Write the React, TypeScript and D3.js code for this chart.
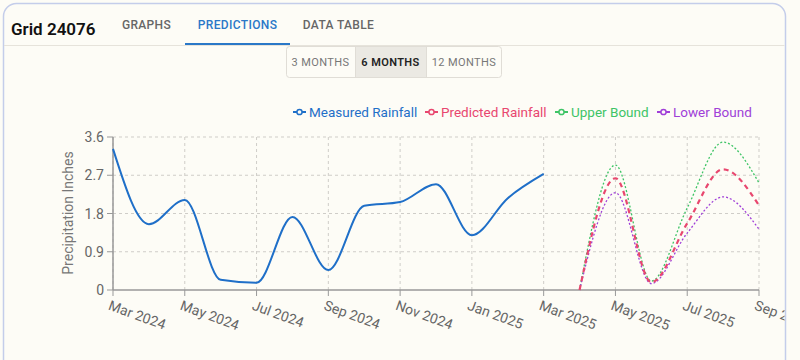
import React from "react";
import * as d3 from "d3";

const months = [
  "Mar 2024", "Apr 2024", "May 2024", "Jun 2024", "Jul 2024", "Aug 2024", "Sep 2024",
  "Oct 2024", "Nov 2024", "Dec 2024", "Jan 2025", "Feb 2025", "Mar 2025",
  "Apr 2025", "May 2025", "Jun 2025", "Jul 2025", "Aug 2025", "Sep 2025",
];
const measured: (number | null)[] = [
  3.32, 1.55, 2.12, 0.24, 0.17, 1.72, 0.47, 1.98, 2.07, 2.49, 1.29, 2.16, 2.73,
  null, null, null, null, null, null,
];
const predicted: (number | null)[] = [
  null, null, null, null, null, null, null, null, null, null, null, null, null,
  0, 2.63, 0.18, 1.57, 2.84, 1.99,
];
const upper: (number | null)[] = [
  null, null, null, null, null, null, null, null, null, null, null, null, null,
  0, 2.94, 0.21, 1.93, 3.48, 2.52,
];
const lower: (number | null)[] = [
  null, null, null, null, null, null, null, null, null, null, null, null, null,
  0, 2.29, 0.15, 1.34, 2.19, 1.43,
];
const yTicks = [0, 0.9, 1.8, 2.7, 3.6];
const xTickLabels = months.filter((_, i) => i % 2 === 0);
const legendNames = ["Measured Rainfall", "Predicted Rainfall", "Upper Bound", "Lower Bound"];
const tabs = ["GRAPHS", "PREDICTIONS", "DATA TABLE"];
const ranges = ["3 MONTHS", "6 MONTHS", "12 MONTHS"];

const BG = "#fdfcf6";
const FONT = "Roboto, 'Noto Sans', sans-serif";
const colors = ["#1f6fc8", "#e8476f", "#3ec466", "#a03fd8"];

export default function App() {
  const x = d3.scalePoint<string>().domain(months).range([113, 759]);
  const y = d3.scaleLinear().domain([0, 3.6]).range([290, 137]);
  const line = d3
    .line<number | null>()
    .defined((d) => d !== null)
    .x((_, i) => x(months[i]) as number)
    .y((d) => y(d as number))
    .curve(d3.curveMonotoneX);

  const series = [
    { data: measured, color: colors[0], width: 2, dash: undefined as string | undefined },
    { data: upper, color: colors[2], width: 1.3, dash: "2 2" },
    { data: lower, color: colors[3], width: 1.3, dash: "2 2" },
    { data: predicted, color: colors[1], width: 2.2, dash: "5 4" },
  ];

  const legendX = [293, 425, 555, 657];
  const tabX = [146.5, 237.5, 338.5];
  const rangeBoxes = [
    [286, 355],
    [355, 426],
    [426, 502],
  ];

  return (
    <svg
      width={800}
      height={360}
      style={{ position: "absolute", left: 0, top: 0, background: BG }}
      fontFamily={FONT}
    >
      <defs>
        <clipPath id="card-clip">
          <rect x={4} y={4} width={780.5} height={400} rx={12} />
        </clipPath>
      </defs>
      <rect x={0} y={0} width={800} height={360} fill={BG} />
      {/* card */}
      <rect x={3.5} y={3.5} width={782} height={400} rx={13} fill={BG} stroke="#c4cdea" strokeWidth={1.5} />
      <g clipPath="url(#card-clip)">
        <line x1={4} x2={785} y1={45.5} y2={45.5} stroke="#e6e3db" />
        <text x={11} y={35} fontSize={17} fontWeight={600} fill="#111">Grid 24076</text>
        {tabs.map((t, i) => (
          <text
            key={t}
            x={tabX[i]}
            y={29}
            textAnchor="middle"
            fontSize={12}
            fontWeight={500}
            letterSpacing={0.35}
            fill={i === 1 ? "#2a78c8" : "#666"}
          >
            {t}
          </text>
        ))}
        <rect x={185} y={43} width={105} height={2} fill="#2a78c8" />
        {/* range buttons */}
        <rect x={286.5} y={46.5} width={215} height={31} rx={3} fill={BG} stroke="#e0ddd6" />
        <rect x={355} y={47} width={71} height={30} fill="#ebe9e3" />
        <line x1={355.5} x2={355.5} y1={47} y2={77} stroke="#e0ddd6" />
        <line x1={426.5} x2={426.5} y1={47} y2={77} stroke="#e0ddd6" />
        {ranges.map((r, i) => (
          <text
            key={r}
            x={(rangeBoxes[i][0] + rangeBoxes[i][1]) / 2}
            y={66}
            textAnchor="middle"
            fontSize={11}
            fontWeight={i === 1 ? 600 : 400}
            letterSpacing={0.4}
            fill={i === 1 ? "#222" : "#777"}
          >
            {r}
          </text>
        ))}
        {/* legend */}
        {legendNames.map((n, i) => (
          <g key={n} transform={`translate(${legendX[i]},112)`}>
            <line x1={0} x2={13} y1={0} y2={0} stroke={colors[i]} strokeWidth={2} />
            <circle cx={6.5} cy={0} r={2.6} fill={BG} stroke={colors[i]} strokeWidth={1.5} />
            <text x={16} y={5} fontSize={13.5} fill={colors[i]}>{n}</text>
          </g>
        ))}
        {/* grid */}
        {yTicks.slice(1).map((t) => (
          <line key={t} x1={113} x2={759} y1={y(t)} y2={y(t)} stroke="#cfcdc8" strokeDasharray="3 3" />
        ))}
        {xTickLabels.map((m) => (
          <line key={m} x1={x(m)} x2={x(m)} y1={137} y2={290} stroke="#cfcdc8" strokeDasharray="3 3" />
        ))}
        {/* axes */}
        <line x1={113} x2={759} y1={290} y2={290} stroke="#999" strokeWidth={1.5} />
        <line x1={113} x2={113} y1={137} y2={290} stroke="#999" strokeWidth={1.5} />
        {yTicks.map((t) => (
          <g key={t}>
            <line x1={107} x2={113} y1={y(t)} y2={y(t)} stroke="#999" />
            <text x={104} y={y(t) + 5} textAnchor="end" fontSize={14} fill="#666">{t === 0 ? "0" : t.toFixed(1)}</text>
          </g>
        ))}
        {xTickLabels.map((m) => (
          <g key={m}>
            <line x1={x(m)} x2={x(m)} y1={290} y2={296} stroke="#999" />
            <text
              transform={`translate(${(x(m) as number) - 2},${300}) rotate(20)`}
              dy="0.71em"
              fontSize={14}
              fill="#666"
            >
              {m}
            </text>
          </g>
        ))}
        <text
          transform="translate(73,213) rotate(-90)"
          textAnchor="middle"
          fontSize={14}
          fill="#777"
        >
          Precipitation Inches
        </text>
        {/* series */}
        {series.map((s, i) => (
          <path
            key={i}
            d={line(s.data) || ""}
            fill="none"
            stroke={s.color}
            strokeWidth={s.width}
            strokeDasharray={s.dash}
          />
        ))}
      </g>
    </svg>
  );
}
